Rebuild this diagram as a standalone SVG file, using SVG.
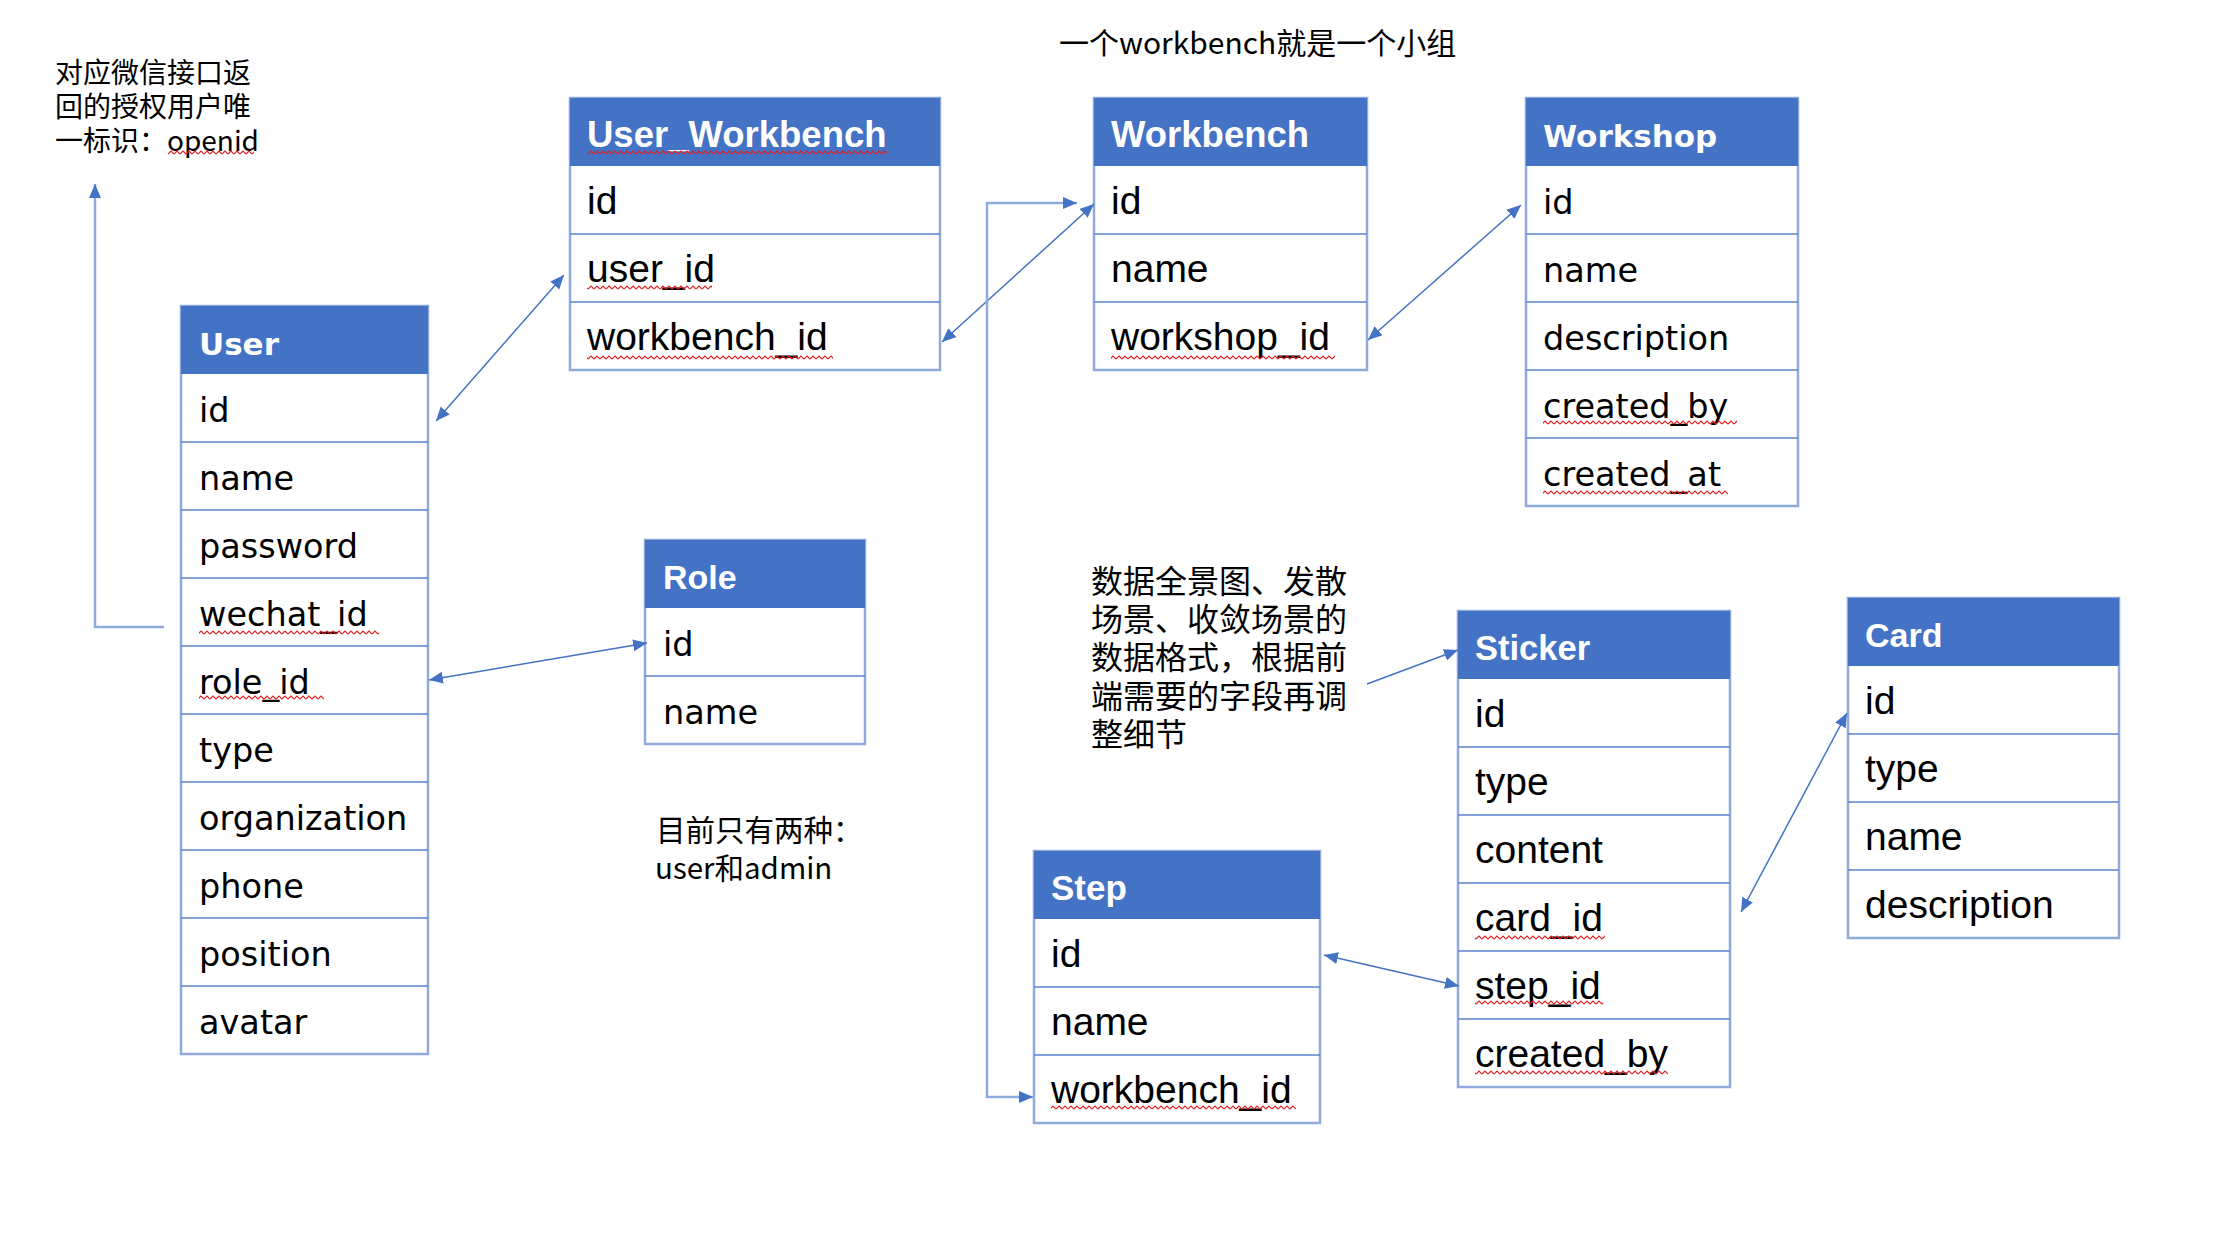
<svg xmlns="http://www.w3.org/2000/svg" width="2232" height="1256" viewBox="0 0 2232 1256">
<style>
.hd{fill:#4472C4}
.box{fill:#FFFFFF;stroke:#8FAADC;stroke-width:2.5}
.sep{stroke:#5B83CF;stroke-width:1.5}
.hn{font-family:"Liberation Sans",Arial,sans-serif;font-weight:bold;fill:#FFFFFF}
.hw{font-family:"DejaVu Sans",Verdana,sans-serif;font-weight:bold;fill:#FFFFFF;font-size:31px}
.rn{font-family:"Liberation Sans",Arial,sans-serif;font-size:39px;fill:#000000}
.rw{font-family:"DejaVu Sans",Verdana,sans-serif;font-size:33.5px;fill:#000000}
.note{font-family:"Noto Sans CJK SC","Noto Sans",sans-serif;fill:#000000}
.con{fill:none;stroke:#4472C4;stroke-width:1.5}
.elb{fill:none;stroke:#8FAADC;stroke-width:2.5}
.sq{fill:url(#sq)}
</style>
<defs>
<marker id="ah" markerUnits="userSpaceOnUse" markerWidth="15" markerHeight="13" refX="14" refY="6" orient="auto-start-reverse" viewBox="0 0 15 13">
<path d="M0,0 L14,6 L0,12 z" fill="#4472C4"/>
</marker>
<pattern id="sq" patternUnits="userSpaceOnUse" width="6" height="5">
<path d="M0 4 L3 1 L6 4" fill="none" stroke="#E02020" stroke-width="1.2"/>
</pattern>
</defs>
<rect width="2232" height="1256" fill="#FFFFFF"/>

<!-- notes -->
<g id="note-openid">
<text class="note" font-size="28"><tspan x="55" y="83">对应微信接口返</tspan><tspan x="55" y="117">回的授权用户唯</tspan><tspan x="55" y="151">一标识：openid</tspan></text>
<rect class="sq" x="168" y="150" width="86" height="5"/>
</g>
<g id="note-workbench">
<text class="note" font-size="30" x="1059" y="54">一个workbench就是一个小组</text>
</g>
<g id="note-role">
<text class="note" font-size="29.5"><tspan x="656" y="841">目前只有两种：</tspan><tspan x="655" y="879">user和admin</tspan></text>
</g>
<g id="note-sticker">
<text class="note" font-size="32"><tspan x="1091" y="593">数据全景图、发散</tspan><tspan x="1091" y="631">场景、收敛场景的</tspan><tspan x="1091" y="669">数据格式，根据前</tspan><tspan x="1091" y="708">端需要的字段再调</tspan><tspan x="1091" y="746">整细节</tspan></text>
</g>

<!-- User -->
<g id="user">
<rect class="box" x="181" y="306" width="247" height="748"/>
<rect class="hd" x="181" y="306" width="247" height="68"/>
<text class="hw" x="199" y="355">User</text>
<path class="sep" d="M181 442H428M181 510H428M181 578H428M181 646H428M181 714H428M181 782H428M181 850H428M181 918H428M181 986H428"/>
<text class="rw" x="199" y="422">id</text>
<text class="rw" x="199" y="490">name</text>
<text class="rw" x="199" y="558">password</text>
<text class="rw" x="199" y="626">wechat_id</text>
<text class="rw" x="199" y="694">role_id</text>
<text class="rw" x="199" y="762">type</text>
<text class="rw" x="199" y="830">organization</text>
<text class="rw" x="199" y="898">phone</text>
<text class="rw" x="199" y="966">position</text>
<text class="rw" x="199" y="1034">avatar</text>
<rect class="sq" x="199" y="630" width="180" height="5"/>
<rect class="sq" x="199" y="695" width="125" height="5"/>
</g>

<!-- User_Workbench -->
<g id="user-workbench">
<rect class="box" x="570" y="98" width="370" height="272"/>
<rect class="hd" x="570" y="98" width="370" height="68"/>
<text class="hn" font-size="36.5" x="587" y="147">User_Workbench</text>
<path class="sep" d="M570 234H940M570 302H940"/>
<text class="rn" x="587" y="214">id</text>
<text class="rn" x="587" y="282">user_id</text>
<text class="rn" x="587" y="350">workbench_id</text>
<rect class="sq" x="587" y="150" width="300" height="5"/>
<rect class="sq" x="587" y="285" width="125" height="5"/>
<rect class="sq" x="587" y="355" width="246" height="5"/>
</g>

<!-- Workbench -->
<g id="workbench">
<rect class="box" x="1094" y="98" width="273" height="272"/>
<rect class="hd" x="1094" y="98" width="273" height="68"/>
<text class="hn" font-size="36.5" x="1111" y="147">Workbench</text>
<path class="sep" d="M1094 234H1367M1094 302H1367"/>
<text class="rn" x="1111" y="214">id</text>
<text class="rn" x="1111" y="282">name</text>
<text class="rn" x="1111" y="350">workshop_id</text>
<rect class="sq" x="1111" y="355" width="224" height="5"/>
</g>

<!-- Workshop -->
<g id="workshop">
<rect class="box" x="1526" y="98" width="272" height="408"/>
<rect class="hd" x="1526" y="98" width="272" height="68"/>
<text class="hw" x="1543" y="147">Workshop</text>
<path class="sep" d="M1526 234H1798M1526 302H1798M1526 370H1798M1526 438H1798"/>
<text class="rw" x="1543" y="214">id</text>
<text class="rw" x="1543" y="282">name</text>
<text class="rw" x="1543" y="350">description</text>
<text class="rw" x="1543" y="418">created_by</text>
<text class="rw" x="1543" y="486">created_at</text>
<rect class="sq" x="1543" y="420" width="194" height="5"/>
<rect class="sq" x="1543" y="490" width="185" height="5"/>
</g>

<!-- Role -->
<g id="role">
<rect class="box" x="645" y="540" width="220" height="204"/>
<rect class="hd" x="645" y="540" width="220" height="68"/>
<text class="hn" font-size="34" x="663" y="589">Role</text>
<path class="sep" d="M645 676H865"/>
<text class="rw" x="663" y="656">id</text>
<text class="rw" x="663" y="724">name</text>
</g>

<!-- Step -->
<g id="step">
<rect class="box" x="1034" y="851" width="286" height="272"/>
<rect class="hd" x="1034" y="851" width="286" height="68"/>
<text class="hn" font-size="35" x="1051" y="900">Step</text>
<path class="sep" d="M1034 987H1320M1034 1055H1320"/>
<text class="rn" x="1051" y="967">id</text>
<text class="rn" x="1051" y="1035">name</text>
<text class="rn" x="1051" y="1103">workbench_id</text>
<rect class="sq" x="1051" y="1105" width="245" height="5"/>
</g>

<!-- Sticker -->
<g id="sticker">
<rect class="box" x="1458" y="611" width="272" height="476"/>
<rect class="hd" x="1458" y="611" width="272" height="68"/>
<text class="hn" font-size="34.5" x="1475" y="660">Sticker</text>
<path class="sep" d="M1458 747H1730M1458 815H1730M1458 883H1730M1458 951H1730M1458 1019H1730"/>
<text class="rn" x="1475" y="727">id</text>
<text class="rn" x="1475" y="795">type</text>
<text class="rn" x="1475" y="863">content</text>
<text class="rn" x="1475" y="931">card_id</text>
<text class="rn" x="1475" y="999">step_id</text>
<text class="rn" x="1475" y="1067">created_by</text>
<rect class="sq" x="1475" y="935" width="130" height="5"/>
<rect class="sq" x="1475" y="1000" width="128" height="5"/>
<rect class="sq" x="1475" y="1070" width="193" height="5"/>
</g>

<!-- Card -->
<g id="card">
<rect class="box" x="1848" y="598" width="271" height="340"/>
<rect class="hd" x="1848" y="598" width="271" height="68"/>
<text class="hn" font-size="34" x="1865" y="647">Card</text>
<path class="sep" d="M1848 734H2119M1848 802H2119M1848 870H2119"/>
<text class="rn" x="1865" y="714">id</text>
<text class="rn" x="1865" y="782">type</text>
<text class="rn" x="1865" y="850">name</text>
<text class="rn" x="1865" y="918">description</text>
</g>

<!-- connectors -->
<g id="connectors">
<path class="elb" d="M164 627H95V184" marker-end="url(#ah)"/>
<path class="con" d="M436 421L564 275" marker-start="url(#ah)" marker-end="url(#ah)"/>
<path class="con" d="M942 342L1094 204" marker-start="url(#ah)" marker-end="url(#ah)"/>
<path class="elb" d="M1077 203H987V1097H1033" marker-start="url(#ah)" marker-end="url(#ah)"/>
<path class="con" d="M1368 340L1521 205" marker-start="url(#ah)" marker-end="url(#ah)"/>
<path class="con" d="M429 680L647 643" marker-start="url(#ah)" marker-end="url(#ah)"/>
<path class="con" d="M1367 684L1458 650" marker-end="url(#ah)"/>
<path class="con" d="M1324 955L1459 986" marker-start="url(#ah)" marker-end="url(#ah)"/>
<path class="con" d="M1741 912L1847 713" marker-start="url(#ah)" marker-end="url(#ah)"/>
</g>
</svg>
